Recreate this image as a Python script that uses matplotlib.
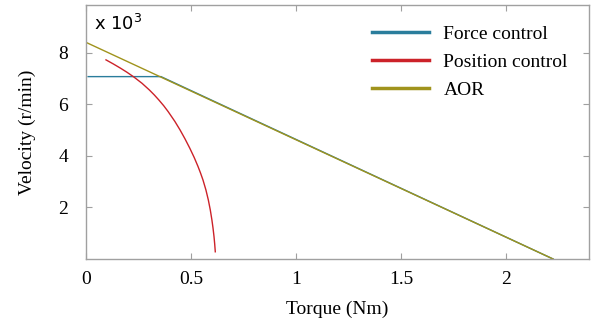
import matplotlib
matplotlib.use("Agg")
import matplotlib.pyplot as plt

# Data (velocity in x10^3 r/min, torque in Nm)
force_T = [0.01, 0.357, 2.224]
force_v = [7.08, 7.08, 0.0]

pos_T = [0.0952, 0.1304, 0.1637, 0.1949, 0.2288, 0.2668, 0.3019, 0.3250, 0.3472,
         0.3700, 0.3913, 0.4232, 0.4478, 0.4716, 0.4943, 0.5152, 0.5334, 0.5452,
         0.5569, 0.5710, 0.5825, 0.5919, 0.5995, 0.6048, 0.6095, 0.6128, 0.6156]
pos_v = [7.73, 7.57, 7.41, 7.25, 7.06, 6.82, 6.56, 6.37, 6.17,
         5.95, 5.72, 5.34, 5.01, 4.66, 4.30, 3.94, 3.59, 3.34,
         3.07, 2.68, 2.29, 1.90, 1.515, 1.20, 0.87, 0.58, 0.28]

aor_T = [0.0, 2.224]
aor_v = [8.41, 0.0]

xticks = [0, 0.5, 1, 1.5, 2]
xticklabels = ["0", "0.5", "1", "1.5", "2"]
yticks = [2, 4, 6, 8]
yticklabels = ["2", "4", "6", "8"]

c_force = "#2a7d9c"
c_pos = "#cc2229"
c_aor = "#a0931c"

plt.rcParams['font.family'] = ['Liberation Serif', 'DejaVu Serif']

fig = plt.figure(figsize=(6, 3.23), dpi=100)
ax = fig.add_axes([86/600, 1-259/323, (589-86)/600, (259-5)/323])

ax.plot(force_T, force_v, color=c_force, lw=1.0, label="Force control")
ax.plot(pos_T, pos_v, color=c_pos, lw=1.0, label="Position control")
ax.plot(aor_T, aor_v, color=c_aor, lw=1.0, label="AOR")

ax.set_xlim(0, 2.395)
ax.set_ylim(0, 9.86)
ax.set_xticks(xticks)
ax.set_xticklabels(xticklabels)
ax.set_yticks(yticks)
ax.set_yticklabels(yticklabels)

for s in ax.spines.values():
    s.set_color("#a0a0a0")
    s.set_linewidth(1.0)
ax.tick_params(direction="in", length=4, color="#a0a0a0", top=True, right=True,
               labelsize=14)
ax.tick_params(axis="x", pad=9)
ax.tick_params(axis="y", pad=13)

ax.set_xlabel("Torque (Nm)", fontsize=14, labelpad=9)
ax.set_ylabel("Velocity (r/min)", fontsize=14, labelpad=16)

ax.text(0.015, 0.965, r"x 10$^3$", transform=ax.transAxes, ha="left", va="top",
        fontsize=13, family=["DejaVu Sans"])

leg = ax.legend(loc="upper right", bbox_to_anchor=(0.985, 0.975), frameon=False,
                fontsize=14, handlelength=2.9, handletextpad=0.75,
                labelspacing=0.55, borderaxespad=0.3)
for line in leg.get_lines():
    line.set_linewidth(2.5)

fig.savefig("out.png", dpi=100)
